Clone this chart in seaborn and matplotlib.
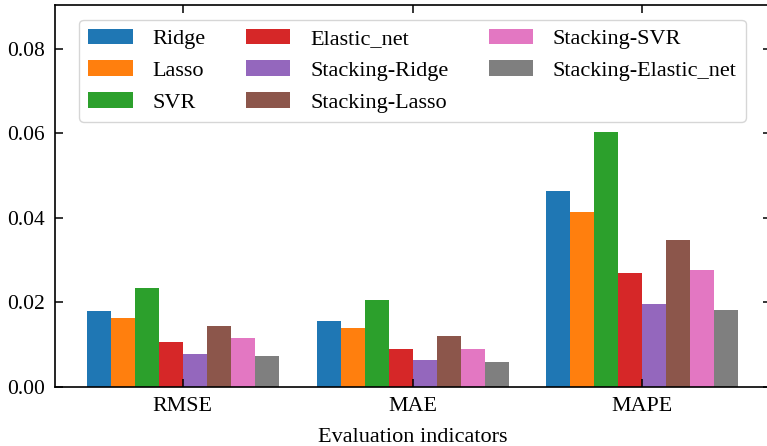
import pandas as pd
import matplotlib
matplotlib.use("Agg")
import matplotlib.pyplot as plt
import seaborn as sns

metrics = ["RMSE", "MAE", "MAPE"]
models = [
    "Ridge",
    "Lasso",
    "SVR",
    "Elastic_net",
    "Stacking-Ridge",
    "Stacking-Lasso",
    "Stacking-SVR",
    "Stacking-Elastic_net",
]

rmse = [0.0180, 0.0163, 0.0234, 0.0107, 0.0078, 0.0144, 0.0117, 0.0073]
mae = [0.0157, 0.0140, 0.0206, 0.0090, 0.0064, 0.0121, 0.0090, 0.0059]
mape = [0.0465, 0.0413, 0.0604, 0.0270, 0.0197, 0.0347, 0.0278, 0.0182]

rows = []
for metric, vals in zip(metrics, [rmse, mae, mape]):
    for model, v in zip(models, vals):
        rows.append([metric, model, v])
df = pd.DataFrame(rows, columns=["metric", "model", "value"])

plt.rcParams["font.family"] = ["Liberation Serif", "DejaVu Serif"]
plt.rcParams["font.size"] = 16
plt.rcParams["xtick.labelsize"] = 15.8
plt.rcParams["ytick.labelsize"] = 15.5
plt.rcParams["xtick.direction"] = "in"
plt.rcParams["ytick.direction"] = "in"
plt.rcParams["xtick.top"] = True
plt.rcParams["ytick.right"] = True
plt.rcParams["xtick.major.size"] = 5.5
plt.rcParams["ytick.major.size"] = 5.5
plt.rcParams["xtick.major.width"] = 1.1
plt.rcParams["ytick.major.width"] = 1.1
plt.rcParams["xtick.major.pad"] = 7
plt.rcParams["ytick.major.pad"] = 7
plt.rcParams["axes.linewidth"] = 1.2

fig = plt.figure(figsize=(7.67, 4.46), dpi=100)
ax = fig.add_axes([0.0711, 0.1323, 0.9335, 0.8565])

sns.barplot(
    data=df, x="metric", y="value", hue="model",
    palette="tab10", saturation=1, width=0.835, gap=0,
    linewidth=0, ax=ax,
)

ax.set_xlim(-0.557, 2.557)
ax.set_ylim(0, 0.0904)
ax.set_yticks([0.00, 0.02, 0.04, 0.06, 0.08])
ax.set_yticklabels(["0.00", "0.02", "0.04", "0.06", "0.08"])
ax.set_xlabel("Evaluation indicators", labelpad=9)
ax.set_ylabel("")
ax.legend(ncol=3, loc="upper center", bbox_to_anchor=(0.5, 0.961),
          borderaxespad=0, handletextpad=0.9, columnspacing=1.8, title=None)

fig.savefig("out.png", dpi=100)
